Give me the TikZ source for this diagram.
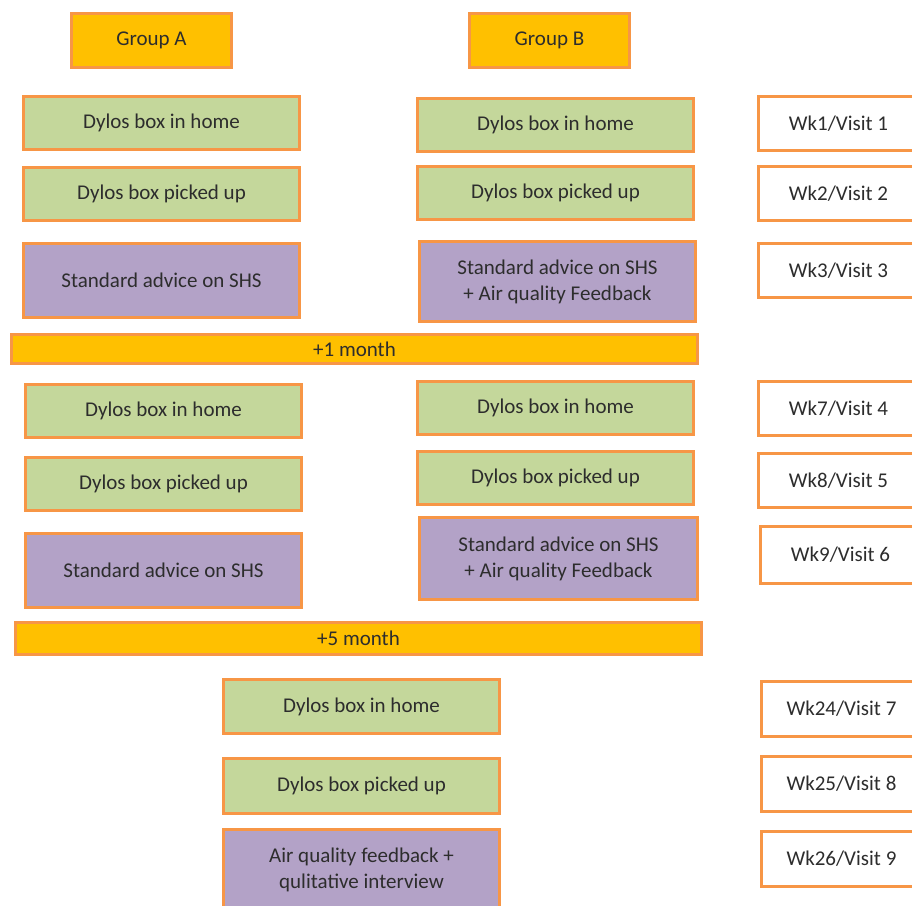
\documentclass[tikz,border=0pt]{standalone}
\usepackage{fontspec}
\setmainfont{Carlito}
\definecolor{bord}{RGB}{247,150,70}
\definecolor{gold}{RGB}{255,192,0}
\definecolor{grn}{RGB}{196,215,155}
\definecolor{purp}{RGB}{179,162,199}
\definecolor{txt}{RGB}{45,45,45}
\tikzset{
  base/.style={draw=bord, line width=3pt, anchor=north west, inner sep=2pt,
    align=center, text=txt, font=\fontsize{21}{26}\selectfont},
  grp/.style={base, fill=gold, minimum width=160pt, minimum height=54pt},
  gbox/.style={base, fill=grn, minimum width=276pt, minimum height=53pt},
  pbox/.style={base, fill=purp, minimum width=276pt},
  vbox/.style={base, fill=white, minimum width=160pt, minimum height=54pt},
  bar/.style={base, fill=gold, minimum width=686pt, minimum height=29pt}
}
\begin{document}
\begin{tikzpicture}[x=1pt,y=-1pt]
\useasboundingbox (0,0) rectangle (912,905);
% headers
\node[grp] (ga) at (70,12) {Group A};
\node[grp] (gb) at (468,12) {Group B};
% block 1
\node[gbox] (a1) at (22,95) {Dylos box in home};
\node[gbox] (b1) at (416,97) {Dylos box in home};
\node[vbox] (v1) at (757,95) {Wk1/Visit 1};
\node[gbox] (a2) at (22,166) {Dylos box picked up};
\node[gbox] (b2) at (416,165) {Dylos box picked up};
\node[vbox] (v2) at (757,165) {Wk2/Visit 2};
\node[pbox, minimum height=74pt] (a3) at (22,242) {Standard advice on SHS};
\node[pbox, minimum height=80pt] (b3) at (418,240) {Standard advice on SHS\\+ Air quality Feedback};
\node[vbox] (v3) at (757,242) {Wk3/Visit 3};
\node[bar] (m1) at (10,333) {+1 month};
% block 2
\node[gbox] (a4) at (24,383) {Dylos box in home};
\node[gbox] (b4) at (416,380) {Dylos box in home};
\node[vbox] (v4) at (757,380) {Wk7/Visit 4};
\node[gbox] (a5) at (24,456) {Dylos box picked up};
\node[gbox] (b5) at (416,450) {Dylos box picked up};
\node[vbox] (v5) at (757,452) {Wk8/Visit 5};
\node[pbox, minimum height=74pt] (a6) at (24,532) {Standard advice on SHS};
\node[pbox, minimum height=82pt, minimum width=278pt] (b6) at (418,516) {Standard advice on SHS\\+ Air quality Feedback};
\node[vbox, minimum height=57pt] (v6) at (759,525) {Wk9/Visit 6};
\node[bar, minimum height=32pt] (m5) at (14,621) {+5 month};
% block 3
\node[gbox, minimum height=54pt] (c7) at (222,678) {Dylos box in home};
\node[vbox, minimum height=55pt] (v7) at (760,680) {Wk24/Visit 7};
\node[gbox, minimum height=55pt] (c8) at (222,757) {Dylos box picked up};
\node[vbox, minimum height=55pt] (v8) at (760,755) {Wk25/Visit 8};
\node[pbox, minimum height=80pt] (c9) at (222,828) {Air quality feedback +\\qulitative interview};
\node[vbox, minimum height=55pt] (v9) at (760,830) {Wk26/Visit 9};
\end{tikzpicture}
\end{document}
